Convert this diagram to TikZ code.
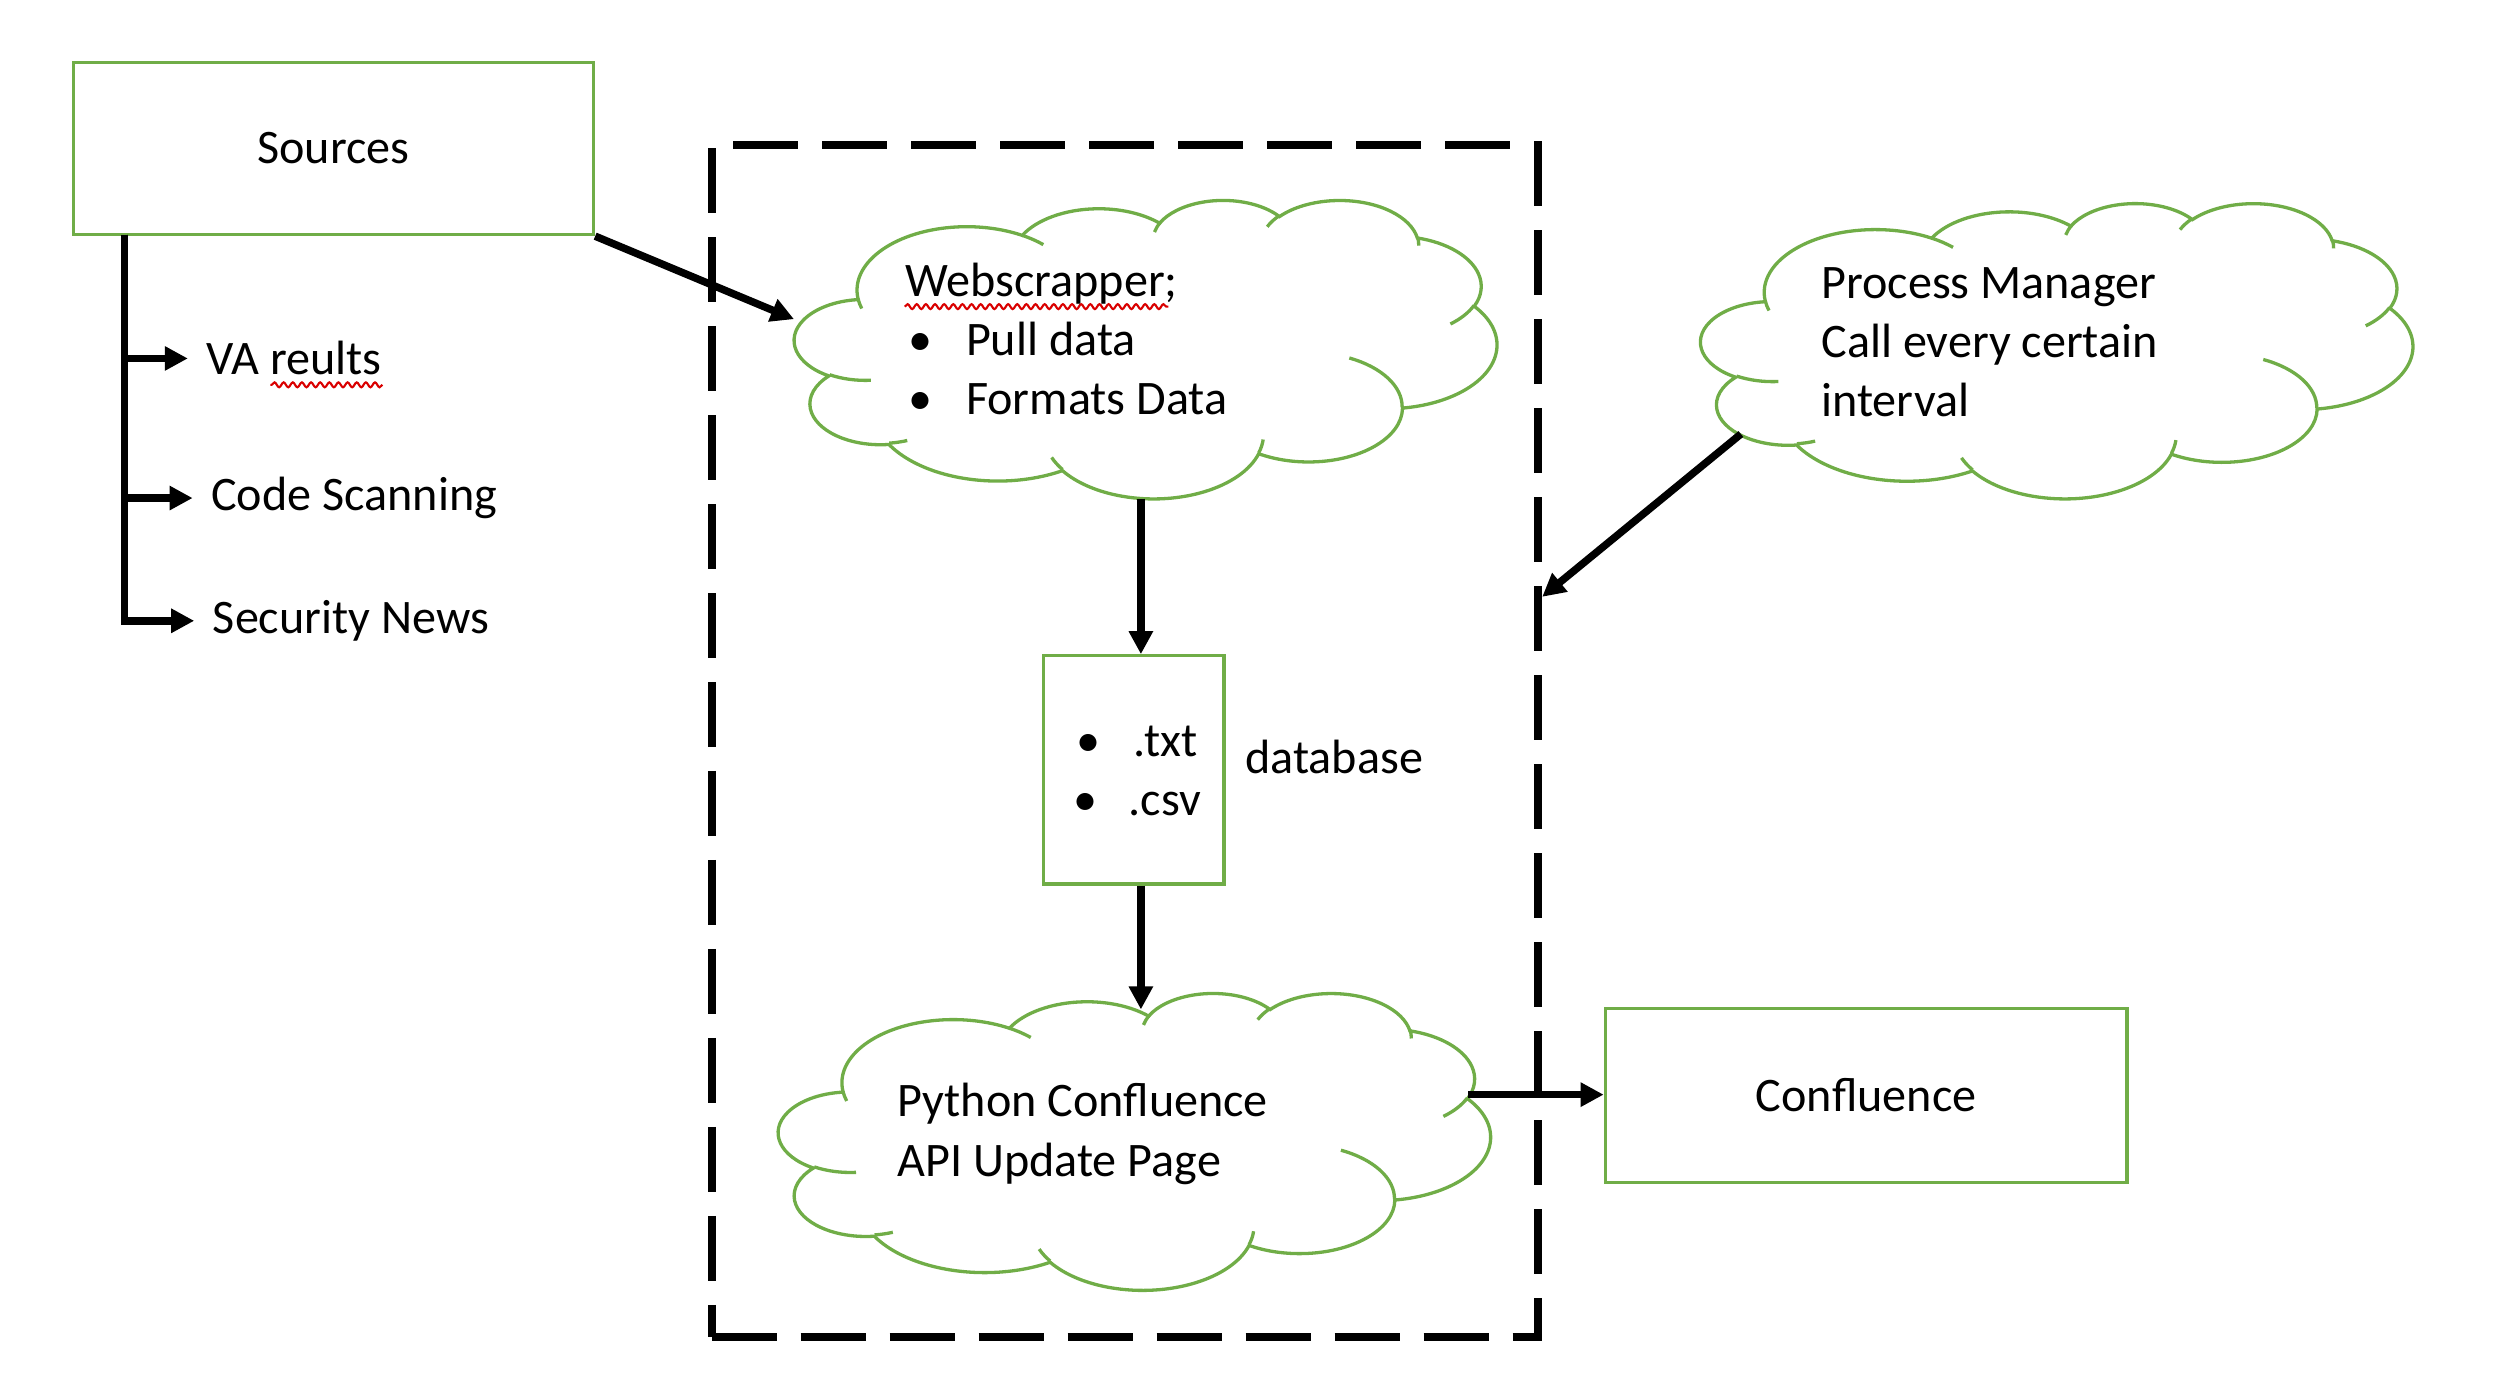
\documentclass[tikz,border=0pt]{standalone}
\usepackage{fontspec}
\setmainfont{Carlito}
\usetikzlibrary{arrows.meta,decorations.pathmorphing}
\definecolor{cgreen}{HTML}{70AD47}
\newcommand\blt{\makebox[0.606cm][l]{\hspace{0.03cm}\textbullet}}
\makeatletter
\newcommand\cloudmove[2]{%
  \pgfmathsetmacro\cl@px{\cl@x+(#1/43.2)*\cl@w}%
  \pgfmathsetmacro\cl@py{\cl@y+(#2/43.2)*\cl@h}%
  \pgfpathmoveto{\pgfpointxy{\cl@px}{\cl@py}}}
\newcommand\cloudarc[4]{%
  \pgfmathsetmacro\cl@ts{atan2(#1*sin(#3),#2*cos(#3))}%
  \pgfmathsetmacro\cl@te{atan2(#1*sin(#3+#4),#2*cos(#3+#4))}%
  \pgfmathsetmacro\cl@d{mod(\cl@te-\cl@ts+720,360)}%
  \pgfmathsetmacro\cl@te{\cl@ts+\cl@d}%
  \pgfmathsetmacro\cl@rx{(#1/43.2)*\cl@w}%
  \pgfmathsetmacro\cl@ry{(#2/43.2)*\cl@h}%
  \pgfpatharcaxes{\cl@ts}{\cl@te}{\pgfpointxy{\cl@rx}{0}}{\pgfpointxy{0}{\cl@ry}}}
\newcommand\officecloud[4]{%
  \def\cl@x{#1}\def\cl@y{#2}\def\cl@w{#3}\def\cl@h{#4}%
  \begin{pgfscope}
  \pgfsetlinewidth{0.033cm}%
  \pgfsetstrokecolor{cgreen}%
  \pgfsetfillcolor{white}%
  \cloudmove{3.9}{14.37}%
  \cloudarc{6.753}{9.19}{-190.4875}{123.7805}%
  \cloudarc{5.333}{7.267}{-144.1024}{89.9452}%
  \cloudarc{4.365}{5.945}{-145.8079}{99.7230}%
  \cloudarc{4.857}{6.595}{-130.9861}{117.2417}%
  \cloudarc{5.333}{7.273}{-78.7089}{109.0269}%
  \cloudarc{6.775}{9.22}{-46.2673}{130.269}%
  \cloudarc{5.785}{7.867}{0.625}{114.0333}%
  \cloudarc{6.752}{9.215}{22.4516}{115.1726}%
  \cloudarc{7.72}{10.543}{66.2426}{75.711}%
  \cloudarc{4.36}{5.918}{-274.9421}{146.7356}%
  \cloudarc{4.345}{5.945}{-246.8285}{152.5189}%
  \pgfpathclose
  \pgfusepath{fill,stroke}%
  \cloudmove{4.693}{26.177}\cloudarc{4.345}{5.945}{86.742}{26.4295}%
  \cloudmove{6.928}{34.899}\cloudarc{4.36}{5.918}{73.6105}{11.4475}%
  \cloudmove{16.478}{39.09}\cloudarc{6.752}{9.215}{137.6242}{14.0811}%
  \cloudmove{28.827}{34.751}\cloudarc{6.752}{9.215}{6.4533}{15.9984}%
  \cloudmove{34.129}{22.954}\cloudarc{5.785}{7.867}{-70.2924}{70.9174}%
  \cloudmove{41.798}{15.354}\cloudarc{5.333}{7.273}{30.318}{27.7515}%
  \cloudmove{38.324}{5.426}\cloudarc{4.857}{6.595}{-13.7443}{14.8589}%
  \cloudmove{29.078}{3.952}\cloudarc{4.857}{6.595}{-149.1815}{18.1954}%
  \cloudmove{22.141}{4.72}\cloudarc{4.365}{5.945}{-163.4943}{17.6864}%
  \cloudmove{14.0}{5.192}\cloudarc{6.753}{9.19}{-66.707}{12.3194}%
  \cloudmove{4.127}{15.789}\cloudarc{6.753}{9.19}{157.6544}{11.8582}%
  \pgfusepath{stroke}%
  \end{pgfscope}}
\makeatother
\begin{document}
\begin{tikzpicture}[x=0.015957cm, y=-0.015957cm,
  font=\fontsize{13.7pt}{16.8pt}\selectfont,
  gbox/.style={draw=cgreen, line width=0.033cm, fill=white, inner sep=0pt},
  blk/.style={line width=0.075cm},
  arr/.style={blk, -{Triangle[length=0.23cm,width=0.23cm]}},
  txt/.style={inner sep=0pt, anchor=base west},
  frame/.style={draw, line width=0.08cm, dash pattern=on 0.65cm off 0.24cm, inner sep=0pt},
  squig/.style={draw=red!85!black, line width=0.6pt, decorate, decoration={snake, amplitude=0.7pt, segment length=2.6pt}},
  hidden/.style={inner sep=0pt}]
\useasboundingbox (0,0) rectangle (1568,864);
% frame
\node[frame, minimum width=8.266cm, minimum height=11.92cm] (frame) at (705,464.5) {};
% boxes
\node[gbox, minimum width=5.202cm, minimum height=1.723cm] (src) at (209,93) {Sources};
\node[gbox, minimum width=1.803cm, minimum height=2.282cm] (db) at (710.5,482.5) {};
\node[gbox, minimum width=5.218cm, minimum height=1.739cm] (conf) at (1169.5,686.5) {Confluence};
% clouds
\officecloud{498}{125}{440}{187}
\node[hidden, minimum width=7.021cm, minimum height=2.984cm] (ws) at (718,218.5) {};
\officecloud{1066}{127}{446}{185}
\node[hidden, minimum width=7.117cm, minimum height=2.952cm] (pm) at (1289,219.5) {};
\officecloud{488}{622}{446}{186}
\node[hidden, minimum width=7.117cm, minimum height=2.968cm] (py) at (711,715) {};
% texts
\node[txt] (ws1) at (567,186) {Webscrapper;};
\node[txt] (ws2) at (567,223) {\blt Pull data};
\node[txt] (ws3) at (567,260) {\blt Formats Data};
\node[txt] (pm1) at (1141,187) {Process Manager};
\node[txt] (pm2) at (1141,224) {Call every certain};
\node[txt] (pm3) at (1141,261) {interval};
\node[txt] (py1) at (562,700) {Python Confluence};
\node[txt] (py2) at (562,737) {API Update Page};
\node[txt] (db1) at (674,474) {\makebox[0.574cm][l]{\textbullet}.txt};
\node[txt] (db2) at (672,511) {\makebox[0.558cm][l]{\textbullet}.csv};
\node[txt] (dbl) at (780,485) {database};
\node[txt] (va) at (129,235) {VA reults};
\node[txt] (cs) at (132,320) {Code Scanning};
\node[txt] (sn) at (133,397) {Security News};
% spell-check marks
\draw[squig] ([yshift=-2.8pt]ws1.base west) -- ([yshift=-2.8pt,xshift=-0.1cm]ws1.base east);
\draw[squig] ([yshift=-2.8pt]va.base east) -- ([yshift=-2.8pt,xshift=-1.12cm]va.base east);
% connector points
\coordinate (t0) at (78,147);
\coordinate (wsout) at ([xshift=-0.048cm]ws.south);
\coordinate (pyin) at ([yshift=-0.176cm]py.north);
\coordinate (pyout) at (920,686);
\coordinate (pmout) at (1091,272);
% connectors
\draw[arr] (t0) |- ([xshift=-0.18cm]va.west);
\draw[arr] (t0) |- ([xshift=-0.18cm]cs.west);
\draw[arr] (t0) |- ([xshift=-0.18cm]sn.west);
\draw[arr] (src.south east) -- ([yshift=0.295cm]ws.west);
\draw[arr] (wsout) -- (wsout |- db.north);
\draw[arr] (wsout |- db.south) -- (wsout |- pyin);
\draw[arr] (pyout) -- (pyout -| conf.west);
\draw[arr] (pmout) -- ([yshift=1.444cm]frame.east);
\end{tikzpicture}
\end{document}
